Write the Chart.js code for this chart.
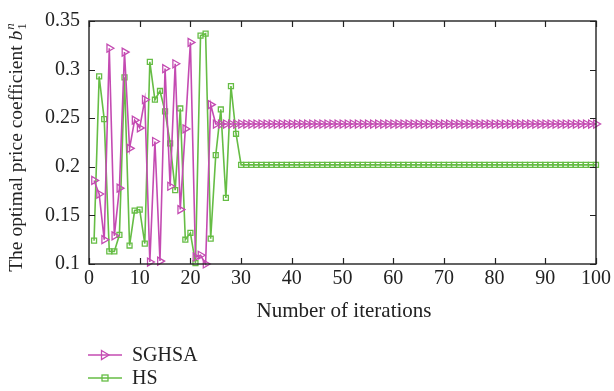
<!DOCTYPE html>
<html>
<head>
<meta charset="utf-8">
<script src="https://cdn.jsdelivr.net/npm/chart.js@4.4.1/dist/chart.umd.min.js"></script>
<style>
  html, body { margin: 0; padding: 0; background: #fff; }
  #wrap { position: relative; width: 614px; height: 391px; }
  canvas { display: block; }
  .leg { position: absolute; left: 88px; font-family: 'Liberation Serif', serif; font-size: 20px; color: #222; display: flex; align-items: center; }
  .leg svg { margin-right: 10px; }
</style>
</head>
<body>
<div id="wrap">
  <canvas id="c" width="614" height="391"></canvas>
  <div class="leg" id="leg1" style="top:343px;"></div>
  <div class="leg" id="leg2" style="top:366px;"></div>
</div>
<script>
const seriesNames = ['SGHSA', 'HS'];
const iterations = [1,2,3,4,5,6,7,8,9,10,11,12,13,14,15,16,17,18,19,20,21,22,23,24,25,26,27,28,29,30,31,32,33,34,35,36,37,38,39,40,41,42,43,44,45,46,47,48,49,50,51,52,53,54,55,56,57,58,59,60,61,62,63,64,65,66,67,68,69,70,71,72,73,74,75,76,77,78,79,80,81,82,83,84,85,86,87,88,89,90,91,92,93,94,95,96,97,98,99,100];
const sghsa = [0.186,0.172,0.125,0.322,0.129,0.178,0.318,0.219,0.248,0.240,0.269,0.102,0.226,0.103,0.301,0.180,0.306,0.156,0.239,0.328,0.107,0.109,0.100,0.264,0.244,
  0.244,0.244,0.244,0.244,0.244,0.244,0.244,0.244,0.244,0.244,0.244,0.244,0.244,0.244,0.244,0.244,0.244,0.244,0.244,0.244,
  0.244,0.244,0.244,0.244,0.244,0.244,0.244,0.244,0.244,0.244,0.244,0.244,0.244,0.244,0.244,0.244,0.244,0.244,0.244,0.244,
  0.244,0.244,0.244,0.244,0.244,0.244,0.244,0.244,0.244,0.244,0.244,0.244,0.244,0.244,0.244,0.244,0.244,0.244,0.244,0.244,
  0.244,0.244,0.244,0.244,0.244,0.244,0.244,0.244,0.244,0.244,0.244,0.244,0.244,0.244,0.244,0.244];
const hs = [0.124,0.293,0.249,0.113,0.113,0.130,0.292,0.119,0.155,0.156,0.121,0.308,0.269,0.278,0.257,0.224,0.176,0.260,0.125,0.132,0.101,0.335,0.337,0.126,0.212,
  0.259,0.168,0.283,0.234,0.202,0.202,0.202,0.202,0.202,0.202,0.202,0.202,0.202,0.202,0.202,0.202,0.202,0.202,0.202,0.202,
  0.202,0.202,0.202,0.202,0.202,0.202,0.202,0.202,0.202,0.202,0.202,0.202,0.202,0.202,0.202,0.202,0.202,0.202,0.202,0.202,
  0.202,0.202,0.202,0.202,0.202,0.202,0.202,0.202,0.202,0.202,0.202,0.202,0.202,0.202,0.202,0.202,0.202,0.202,0.202,0.202,
  0.202,0.202,0.202,0.202,0.202,0.202,0.202,0.202,0.202,0.202,0.202,0.202,0.202,0.202,0.202,0.202];
const xTicks = [0,10,20,30,40,50,60,70,80,90,100];
const yTicks = [0.1,0.15,0.2,0.25,0.3,0.35];
const xTitle = 'Number of iterations';
const yTitle = 'The optimal price coefficient ';

const MAG = '#c44bb2';
const GRN = '#66bd45';
const FONT = "'Liberation Serif', serif";
const TXT = '#222';

function toXY(vals) { return iterations.map((it, i) => ({ x: it, y: vals[i] })); }

const framePlugin = {
  id: 'frame',
  afterDraw(chart) {
    const { ctx, chartArea: { left, right, top, bottom }, scales: { x, y } } = chart;
    ctx.save();
    ctx.strokeStyle = TXT;
    ctx.lineWidth = 1.4;
    ctx.strokeRect(left, top, right - left, bottom - top);
    ctx.lineWidth = 1.2;
    const L = 6;
    xTicks.forEach(v => {
      const px = Math.round(x.getPixelForValue(v)) + 0.5;
      ctx.beginPath();
      ctx.moveTo(px, bottom); ctx.lineTo(px, bottom - L);
      ctx.moveTo(px, top); ctx.lineTo(px, top + L);
      ctx.stroke();
    });
    yTicks.forEach(v => {
      const py = Math.round(y.getPixelForValue(v)) + 0.5;
      ctx.beginPath();
      ctx.moveTo(left, py); ctx.lineTo(left + L, py);
      ctx.moveTo(right, py); ctx.lineTo(right - L, py);
      ctx.stroke();
    });
    // x title
    ctx.fillStyle = TXT;
    ctx.font = '21px ' + FONT;
    ctx.textAlign = 'center';
    ctx.textBaseline = 'middle';
    ctx.fillText(xTitle, 344, 311);
    // y title (rotated) with b_1^n
    ctx.save();
    ctx.translate(16, 0);
    ctx.rotate(-Math.PI / 2);
    ctx.textAlign = 'left';
    ctx.textBaseline = 'alphabetic';
    const main = '19.5px ' + FONT;
    const ital = 'italic 19.5px ' + FONT;
    const small = '13px ' + FONT;
    const smallI = 'italic 13px ' + FONT;
    ctx.font = main; const w1 = ctx.measureText(yTitle).width;
    ctx.font = ital; const w2 = ctx.measureText('b').width;
    ctx.font = smallI; const w3 = ctx.measureText('n').width;
    const total = w1 + w2 + w3 + 2;
    const center = 147;
    let sx = -center - total / 2;
    const base = 6;
    ctx.font = main; ctx.fillText(yTitle, sx, base); sx += w1;
    ctx.font = ital; ctx.fillText('b', sx, base); sx += w2 + 1;
    ctx.font = smallI; ctx.fillText('n', sx, base - 8);
    ctx.font = small; ctx.fillText('1', sx, base + 4);
    ctx.restore();
    ctx.restore();
  }
};

const chart = new Chart(document.getElementById('c'), {
  type: 'line',
  data: {
    datasets: [
      {
        label: seriesNames[0],
        data: toXY(sghsa),
        borderColor: MAG,
        backgroundColor: 'rgba(0,0,0,0)',
        borderWidth: 1.6,
        pointStyle: 'triangle',
        rotation: 90,
        pointRadius: 4.6,
        pointBorderWidth: 1.3,
        pointBorderColor: MAG,
        pointBackgroundColor: 'rgba(255,255,255,0)',
        tension: 0,
        clip: false,
        order: 1
      },
      {
        label: seriesNames[1],
        data: toXY(hs),
        borderColor: GRN,
        backgroundColor: 'rgba(0,0,0,0)',
        borderWidth: 1.6,
        pointStyle: 'rect',
        pointRadius: 3.5,
        pointBorderWidth: 1.3,
        pointBorderColor: GRN,
        pointBackgroundColor: 'rgba(255,255,255,0)',
        tension: 0,
        clip: false,
        order: 2
      }
    ]
  },
  options: {
    responsive: false,
    animation: false,
    layout: { padding: { left: 0, top: 19, right: 14, bottom: 0 } },
    plugins: { legend: { display: false }, tooltip: { enabled: false } },
    scales: {
      x: {
        type: 'linear',
        min: 0, max: 100,
        afterBuildTicks(scale) { scale.ticks = xTicks.map(v => ({ value: v })); },
        afterFit(scale) { scale.height = 127; },
        grid: { display: false, drawTicks: false },
        border: { display: false },
        ticks: { padding: 3, color: TXT, font: { family: FONT, size: 20 }, maxRotation: 0, autoSkip: false }
      },
      y: {
        type: 'linear',
        min: 0.1, max: 0.35,
        afterBuildTicks(scale) { scale.ticks = yTicks.map(v => ({ value: v })); },
        afterFit(scale) { scale.width = 89; },
        grid: { display: false, drawTicks: false },
        border: { display: false },
        ticks: {
          padding: 9, color: TXT, font: { family: FONT, size: 20 }, autoSkip: false,
          callback: v => String(parseFloat(v.toFixed(2)))
        }
      }
    }
  },
  plugins: [framePlugin]
});

function legendIcon(color, marker) {
  const m = marker === 'tri'
    ? `<polygon points="13.5,4.5 21,9 13.5,13.5" fill="none" stroke="${color}" stroke-width="1.3"/>`
    : `<rect x="14" y="6" width="6" height="6" fill="none" stroke="${color}" stroke-width="1.3"/>`;
  return `<svg width="34" height="18" viewBox="0 0 34 18"><line x1="0" y1="9" x2="34" y2="9" stroke="${color}" stroke-width="1.6"/>${m}</svg>`;
}
document.getElementById('leg1').innerHTML = legendIcon(MAG, 'tri') + '<span>' + seriesNames[0] + '</span>';
document.getElementById('leg2').innerHTML = legendIcon(GRN, 'sq') + '<span>' + seriesNames[1] + '</span>';
</script>
</body>
</html>
